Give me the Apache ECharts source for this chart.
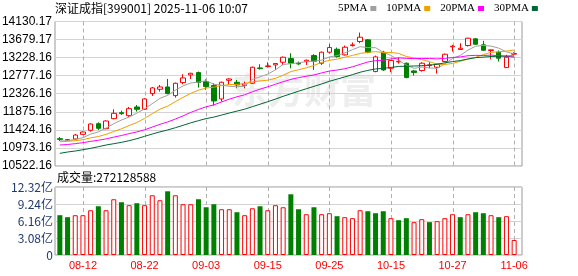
<!DOCTYPE html>
<html><head><meta charset="utf-8">
<script src="https://cdn.jsdelivr.net/npm/echarts@6/dist/echarts.min.js"></script>
<style>html,body{margin:0;padding:0;background:#fff}#c{width:578px;height:276px}</style>
</head><body><div id="c"></div>
<script>
const dates = ['08-07','08-08','08-11','08-12','08-13','08-14','08-15','08-18','08-19','08-20','08-21','08-22','08-25','08-26','08-27','08-28','08-29','09-01','09-02','09-03','09-04','09-05','09-08','09-09','09-10','09-11','09-12','09-15','09-16','09-17','09-18','09-19','09-22','09-23','09-24','09-25','09-26','09-29','09-30','10-09','10-10','10-13','10-14','10-15','10-16','10-17','10-20','10-21','10-22','10-23','10-24','10-27','10-28','10-29','10-30','10-31','11-03','11-04','11-05','11-06'];
const open = [11204,11179,11196,11313,11413,11579,11454,11704,11854,11779,11996,11938,12330,12438,12496,12280,12605,12796,12855,12630,12530,12196,12663,12613,12530,12588,12971,13005,13046,13113,13205,13088,13130,13280,13088,13363,13438,13297,13530,13630,13672,12880,13363,12963,13122,13088,12896,12905,13030,12988,13130,13497,13430,13530,13697,13547,13405,13363,12980,13313];
const close = [11188,11163,11296,11371,11571,11463,11646,11838,11829,11954,11938,12196,12471,12496,12330,12588,12721,12838,12605,12505,12146,12613,12696,12546,12571,12988,12955,13021,13080,13238,13088,13071,13163,13138,13363,13480,13255,13488,13547,13738,13363,13247,12921,13155,13138,12730,12855,13088,13046,13071,13313,13513,13463,13713,13563,13413,13422,13213,13238,13330];
const low = [11146,11146,11171,11304,11379,11421,11438,11688,11796,11746,11880,11921,12271,12380,12313,12230,12563,12696,12480,12421,12030,12130,12546,12463,12463,12571,12930,12980,12921,13046,12963,13046,13046,12921,13046,13330,13230,13280,13505,13588,13338,12863,12896,12863,13080,12713,12780,12880,12963,12830,13113,13380,13422,13505,13547,13397,13188,13130,12980,13297];
const high = [11246,11196,11321,11388,11588,11613,11663,11938,11904,11996,12046,12213,12496,12546,12696,12605,12813,12846,12880,12688,12588,12630,12713,12671,12630,13005,13063,13113,13088,13255,13338,13130,13180,13313,13380,13563,13480,13530,13605,13855,13688,13280,13397,13171,13230,13105,12921,13113,13113,13080,13330,13547,13588,13722,13713,13647,13430,13405,13297,13363];
const prevClose = 11205;
const ma5 = [11146,11154,11188,11229,11318,11373,11469,11578,11669,11746,11841,11951,12078,12211,12286,12416,12521,12595,12616,12651,12563,12541,12513,12501,12515,12683,12751,12816,12923,13057,13077,13100,13128,13140,13165,13243,13280,13345,13427,13502,13478,13477,13363,13285,13165,13038,12960,12993,12972,12958,13075,13207,13282,13415,13513,13533,13515,13465,13370,13323];
const ma10 = [11129,11138,11154,11179,11225,11258,11313,11383,11451,11532,11607,11710,11828,11940,12016,12129,12236,12336,12414,12469,12490,12531,12554,12559,12583,12623,12646,12665,12712,12786,12880,12926,12972,13032,13111,13160,13190,13237,13283,13333,13361,13378,13354,13356,13333,13258,13218,13178,13128,13062,13057,13083,13137,13193,13236,13304,13361,13373,13392,13418];
const ma20 = [11046,11059,11080,11105,11138,11165,11199,11243,11284,11330,11373,11426,11494,11562,11622,11694,11774,11860,11934,12000,12048,12121,12191,12250,12300,12376,12441,12500,12563,12627,12685,12728,12763,12795,12847,12892,12918,12951,12998,13059,13120,13152,13163,13194,13222,13209,13204,13207,13206,13197,13209,13231,13246,13275,13285,13281,13290,13276,13260,13240];
const ma30 = [10838,10871,10896,10929,10963,11004,11046,11079,11113,11154,11204,11263,11320,11374,11422,11478,11538,11600,11654,11706,11744,11794,11845,11893,11941,12003,12065,12128,12192,12262,12325,12389,12451,12510,12570,12637,12691,12746,12803,12863,12910,12945,12960,12982,13009,13014,13018,13027,13041,13060,13099,13129,13155,13194,13227,13241,13256,13263,13268,13271];
const volume = [7.21,6.85,7.21,7.21,8.11,8.83,8.11,10.10,9.56,9.02,9.38,9.02,10.82,9.92,11.54,10.82,9.20,9.20,10.10,8.65,9.20,8.29,8.29,7.75,7.21,8.47,8.83,8.11,9.02,8.65,11.0,8.29,7.39,8.65,7.39,7.57,7.03,6.85,6.67,8.11,7.93,7.57,7.93,6.67,6.31,6.67,5.95,6.49,5.95,6.13,6.67,7.39,6.85,7.39,7.75,7.57,7.21,6.85,7.03,2.72128588];
const xTickLabels = ['08-12','08-22','09-03','09-15','09-25','10-15','10-27','11-06'];
const yTickLabels = ['10522.16','10973.16','11424.16','11875.16','12326.16','12777.16','13228.16','13679.17','14130.17'];
const volTickLabels = ['0','3.08亿','6.16亿','9.24亿','12.32亿'];
const seriesNames = ['5PMA','10PMA','20PMA','30PMA'];
const titleText = '深证成指[399001] 2025-11-06 10:07';
const volTitle = '成交量:272128588';

const Y_MIN = 10522.16, Y_MAX = 14130.17, Y_STEP = (Y_MAX - Y_MIN) / 8;
const V_MAX = 12.32, V_STEP = 3.08;
const UP = '#ff0000', DOWN = '#008000';
const MA_COLORS = ['#a0a0a0', '#f0a000', '#ff00ff', '#006633'];
const SANS = '"Liberation Sans", Arial, "Noto Sans CJK SC", sans-serif';
const CJK = '"Noto Sans CJK SC", "Liberation Sans", sans-serif';

const candle = dates.map((d, i) => [open[i], close[i], low[i], high[i]]);
const volData = volume.map((v, i) => {
  const pc = i ? close[i - 1] : prevClose;
  const up = close[i] >= pc;
  return { value: v, itemStyle: up ? { color: '#ffffff', borderColor: UP, borderWidth: 1 } : { color: DOWN, borderColor: DOWN, borderWidth: 0 } };
});

const PLOT_L = 56, PLOT_W = 462;
const GM = { top: 21.5, height: 144.5 }, GV = { top: 187, height: 68 };
const gridOpt = (left, width, g, extra) => Object.assign({ left, width, top: g.top, height: g.height, outerBoundsMode: 'none', containLabel: false }, extra || {});
const frame = { show: true, borderColor: '#999', borderWidth: 1, backgroundColor: 'transparent' };

const maSeries = [ma5, ma10, ma20, ma30].map((arr, k) => ({
  name: seriesNames[k], type: 'line', xAxisIndex: 1, yAxisIndex: 1, data: arr,
  symbol: 'none', showSymbol: false, color: MA_COLORS[k],
  lineStyle: { color: MA_COLORS[k], width: 1 }, z: 3, silent: true
}));
const watermark = {
  type: 'text', left: 232, top: 72, z: 0, silent: true,
  style: { text: '东方财富', fill: '#eeeeee', font: 'bold 36px "Noto Sans CJK SC"' }
};

const chart = echarts.init(document.getElementById('c'), null, { renderer: 'canvas' });
chart.setOption({
  animation: false,
  backgroundColor: '#ffffff',
  title: [
    { text: titleText, left: 55, top: 2, padding: 0, textStyle: { fontSize: 12, fontWeight: 'normal', color: '#000', fontFamily: CJK } },
    { text: volTitle, left: 57, top: 171, padding: 0, textStyle: { fontSize: 12, fontWeight: 'normal', color: '#000', fontFamily: CJK } }
  ],
  legend: {
    data: seriesNames.map(n => ({ name: n, icon: 'rect' })),
    left: 338, top: 3, padding: 0, align: 'right', itemWidth: 6, itemHeight: 5, itemGap: 10,
    selectedMode: false,
    textStyle: { fontFamily: '"Liberation Serif", "DejaVu Serif", serif', fontSize: 11, color: '#000', padding: [0, -2, 0, 0] }
  },
  graphic: [watermark],
  grid: [
    gridOpt(55, 467, GM, frame),
    gridOpt(PLOT_L, PLOT_W, GM),
    gridOpt(55, 467, GV, frame),
    gridOpt(PLOT_L, PLOT_W, GV)
  ],
  xAxis: [
    { gridIndex: 0, type: 'value', min: 0, max: 1, show: false },
    { gridIndex: 1, type: 'category', data: dates, boundaryGap: true, axisLine: { show: false }, axisTick: { show: false }, axisLabel: { show: false }, splitLine: { show: false } },
    { gridIndex: 2, type: 'value', min: 0, max: 1, show: false },
    { gridIndex: 3, type: 'category', data: dates, boundaryGap: true, axisLine: { show: false }, axisTick: { show: false }, splitLine: { show: false },
      axisLabel: { show: true, color: '#ff0000', fontSize: 11, fontFamily: SANS, margin: 5, hideOverlap: false,
        interval: (idx, val) => xTickLabels.indexOf(val) >= 0 } }
  ],
  yAxis: [
    { gridIndex: 0, type: 'value', min: Y_MIN, max: Y_MAX, interval: Y_STEP, axisLine: { show: false }, axisTick: { show: false },
      splitLine: { show: true, lineStyle: { color: '#d4d4d4', width: 1 } },
      axisLabel: { show: true, color: '#000', fontSize: 12, fontFamily: SANS, margin: 3, showMinLabel: true, showMaxLabel: true,
        formatter: v => yTickLabels[Math.round((v - Y_MIN) / Y_STEP)] || '' } },
    { gridIndex: 1, type: 'value', min: Y_MIN, max: Y_MAX, show: false, splitLine: { show: false } },
    { gridIndex: 2, type: 'value', min: 0, max: V_MAX, interval: V_STEP, axisLine: { show: false }, axisTick: { show: false },
      splitLine: { show: true, lineStyle: { color: '#d4d4d4', width: 1 } },
      axisLabel: { show: true, color: '#1f3a70', fontSize: 12, fontFamily: CJK, margin: 2, showMinLabel: true, showMaxLabel: true,
        formatter: v => volTickLabels[Math.round(v / V_STEP)] || '' } },
    { gridIndex: 3, type: 'value', min: 0, max: V_MAX, show: false, splitLine: { show: false } }
  ],
  series: [
    { name: 'K', type: 'candlestick', xAxisIndex: 1, yAxisIndex: 1, data: candle, barWidth: 5,
      itemStyle: { color: '#ffffff', color0: DOWN, borderColor: UP, borderColor0: DOWN, borderWidth: 1 },
      silent: true, z: 2 },
    ...maSeries,
    { name: 'VOL', type: 'bar', xAxisIndex: 3, yAxisIndex: 3, data: volData, barWidth: 5, silent: true, z: 2 }
  ]
});

// Dashed vertical guides at the labelled dates, positioned by the chart's own axis scales
const guides = [];
const mTop = chart.convertToPixel({ yAxisIndex: 1 }, Y_MAX), mBot = chart.convertToPixel({ yAxisIndex: 1 }, Y_MIN);
const vTop = chart.convertToPixel({ yAxisIndex: 3 }, V_MAX), vBot = chart.convertToPixel({ yAxisIndex: 3 }, 0);
xTickLabels.forEach(d => {
  const xm = Math.round(chart.convertToPixel({ xAxisIndex: 1 }, d)) + 0.5;
  const xv = Math.round(chart.convertToPixel({ xAxisIndex: 3 }, d)) + 0.5;
  [[xm, mTop, mBot], [xv, vTop, vBot]].forEach(([x, y1, y2]) => {
    guides.push({ type: 'line', silent: true, z: 1,
      shape: { x1: x, y1: y1, x2: x, y2: y2 },
      style: { stroke: '#b0b0b0', lineWidth: 1, lineDash: [4, 3] } });
  });
});
chart.setOption({ graphic: [watermark].concat(guides) });
</script></body></html>
